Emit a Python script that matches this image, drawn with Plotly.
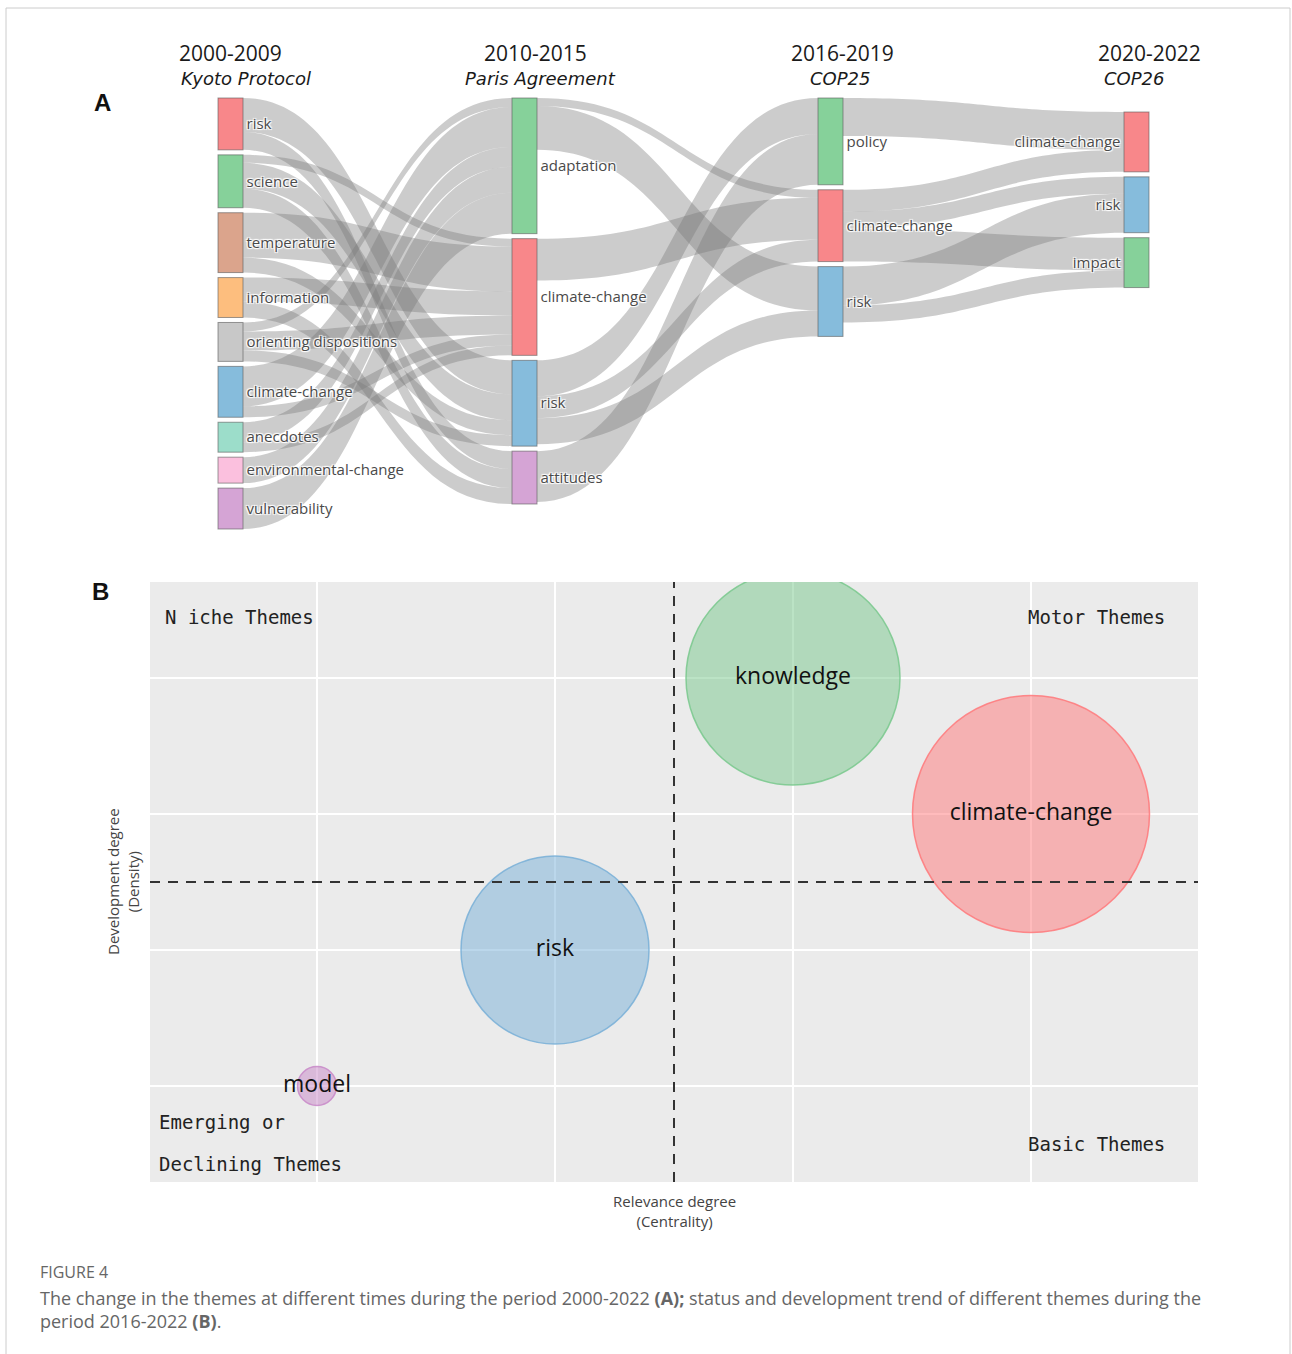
import plotly.graph_objects as go

W, H = 1292, 1354

# ---------------- Panel A data (thematic evolution) ----------------
periods = ["2000-2009", "2010-2015", "2016-2019", "2020-2022"]
events = ["Kyoto Protocol", "Paris Agreement", "COP25", "COP26"]

themes_p1 = ["risk", "science", "temperature", "information", "orienting dispositions",
             "climate-change", "anecdotes", "environmental-change", "vulnerability"]
themes_p2 = ["adaptation", "climate-change", "risk", "attitudes"]
themes_p3 = ["policy", "climate-change", "risk"]
themes_p4 = ["climate-change", "risk", "impact"]

colors_p1 = ["#F8878A", "#86D19A", "#DBA48C", "#FDBE7E", "#C8C8C8",
             "#86BCDC", "#9CDDCA", "#FBC0DE", "#D5A4D5"]
colors_p2 = ["#86D19A", "#F8878A", "#86BCDC", "#D5A4D5"]
colors_p3 = ["#86D19A", "#F8878A", "#86BCDC"]
colors_p4 = ["#F8878A", "#86BCDC", "#86D19A"]

p12_from = ["risk", "risk", "science", "science", "science", "temperature", "temperature",
            "information", "information", "orienting dispositions", "orienting dispositions",
            "orienting dispositions", "climate-change", "climate-change", "anecdotes", "anecdotes",
            "environmental-change", "vulnerability"]
p12_to = ["risk", "attitudes", "climate-change", "risk", "attitudes", "climate-change", "risk",
          "climate-change", "attitudes", "adaptation", "climate-change", "risk",
          "adaptation", "climate-change", "adaptation", "climate-change",
          "adaptation", "adaptation"]
p12_val = [34, 18, 8, 26, 19, 45, 15, 24, 16, 9, 19, 11, 40, 11, 20, 10, 26, 41]

p23_from = ["adaptation", "adaptation", "climate-change", "risk", "risk", "risk", "attitudes"]
p23_to = ["climate-change", "risk", "climate-change", "policy", "climate-change", "risk", "policy"]
p23_val = [8, 44, 42, 36, 22, 26, 51]

p34_from = ["policy", "climate-change", "climate-change", "climate-change", "risk", "risk"]
p34_to = ["climate-change", "climate-change", "risk", "impact", "risk", "impact"]
p34_val = [38, 22, 17, 33, 39, 17]

# ---------------- Panel B data (thematic map) ----------------
map_themes = ["knowledge", "climate-change", "risk", "model"]
rank_centrality = [3, 4, 2, 1]
rank_density = [4, 3, 2, 1]
bubble_size = [214, 237, 188, 39]
bubble_rgb = [(120, 200, 140), (255, 120, 122), (120, 175, 215), (200, 135, 200)]

# ---------------- helpers ----------------
def px(x):
    return x / W

def py(y):
    return 1 - y / H

columns = [themes_p1, themes_p2, themes_p3, themes_p4]
col_colors = [colors_p1, colors_p2, colors_p3, colors_p4]
node_ids = {}
labels, ncolors = [], []
for c, col in enumerate(columns):
    for j, t in enumerate(col):
        node_ids[(c, t)] = len(labels)
        labels.append(t)
        ncolors.append(col_colors[c][j])

src, tgt, val = [], [], []
for c, (fr, to, vv) in enumerate([(p12_from, p12_to, p12_val),
                                   (p23_from, p23_to, p23_val),
                                   (p34_from, p34_to, p34_val)]):
    for a, b, v in zip(fr, to, vv):
        src.append(node_ids[(c, a)])
        tgt.append(node_ids[(c + 1, b)])
        val.append(v)

n = len(labels)
inflow = [0] * n
outflow = [0] * n
for s, t, v in zip(src, tgt, val):
    outflow[s] += v
    inflow[t] += v
node_val = [max(i, o) for i, o in zip(inflow, outflow)]

# sankey geometry (layout)
dom_top, dom_bot = 98, 529
dom_h = dom_bot - dom_top
pad = 5
ky = min((dom_h - (len(col) - 1) * pad) / sum(node_val[node_ids[(c, t)]] for t in col)
         for c, col in enumerate(columns))
col_x_px = [230.5, 524.5, 830.5, 1136.5]
col_offset = [0, 0, 0, 14]
nx, ny = [0.0] * n, [0.0] * n
for c, col in enumerate(columns):
    cum = col_offset[c]
    for j, t in enumerate(col):
        k = node_ids[(c, t)]
        h = node_val[k] * ky
        nx[k] = col_x_px[c] / W
        ny[k] = (cum + h / 2) / dom_h
        cum += h + pad

fig = go.Figure()

fig.add_trace(go.Sankey(
    domain=dict(x=[0, 1], y=[py(dom_bot), py(dom_top)]),
    arrangement="fixed",
    node=dict(label=labels, color=ncolors, x=nx, y=ny, pad=pad, thickness=25,
              line=dict(color="rgba(90,90,90,0.6)", width=1)),
    link=dict(source=src, target=tgt, value=val, color="rgba(120,120,120,0.38)"),
    textfont=dict(family="Open Sans", size=15, color="#4a4a4a"),
    hoverinfo="skip",
))

fig.add_trace(go.Scatter(
    x=rank_centrality, y=rank_density, mode="markers+text", text=map_themes,
    textposition="middle center",
    textfont=dict(family="Open Sans", size=23, color="#111111"),
    marker=dict(size=bubble_size, sizemode="diameter", sizeref=1, opacity=1,
                color=[f"rgba({r},{g},{b},0.5)" for r, g, b in bubble_rgb],
                line=dict(color=[f"rgba({r},{g},{b},0.85)" for r, g, b in bubble_rgb], width=1.5)),
    cliponaxis=True, hoverinfo="skip", showlegend=False,
))

mean_c = sum(rank_centrality) / len(rank_centrality)
mean_d = sum(rank_density) / len(rank_density)


def note(x, y, text, font, xanchor="center", xref="paper", yref="paper", **kw):
    return dict(x=x, y=y, text=text, showarrow=False, xref=xref, yref=yref,
                xanchor=xanchor, yanchor="middle", font=font, **kw)


ann = []
hdr_x = [(230, 246), (535, 540), (842, 840), (1149, 1134)]
for (xa, xb), p, e in zip(hdr_x, periods, events):
    ann.append(note(px(xa), py(53), p, dict(family="Open Sans", size=21, color="#1a1a1a")))
    ann.append(note(px(xb), py(79), f"<i>{e}</i>", dict(family="DejaVu Sans", size=18, color="#1a1a1a")))
ann.append(note(px(102), py(103), "<b>A</b>", dict(family="Liberation Sans", size=24, color="#111")))
ann.append(note(px(100), py(591), "<b>B</b>", dict(family="Liberation Sans", size=24, color="#111")))

mono = dict(family="DejaVu Sans Mono", size=19, color="#222")
ann.append(note(px(163), py(617), "N iche Themes", mono, xanchor="left"))
ann.append(note(px(1167), py(617), "Motor Themes", mono, xanchor="right"))
ann.append(note(px(1167), py(1144), "Basic Themes", mono, xanchor="right"))
ann.append(note(px(157), py(1122), "Emerging or", mono, xanchor="left"))
ann.append(note(px(157), py(1164), "Declining Themes", mono, xanchor="left"))

ann.append(note(mean_c, py(1211), "Relevance degree<br>(Centrality)",
                dict(family="Open Sans", size=15, color="#444"), xref="x"))
ann.append(note(px(123), mean_d, "Development degree<br>(Density)",
                dict(family="Open Sans", size=15, color="#444"), yref="y", textangle=-90))

ann.append(note(px(38), py(1272), "FIGURE 4", dict(family="Open Sans", size=16, color="#666"),
                xanchor="left"))
ann.append(note(px(38), py(1309),
                "The change in the themes at different times during the period 2000-2022 <b>(A);</b> "
                "status and development trend of different themes during the<br>period 2016-2022 <b>(B)</b>.",
                dict(family="Open Sans", size=18, color="#666"), xanchor="left", align="left"))

shapes = [
    dict(type="line", xref="x", yref="y domain", x0=mean_c, x1=mean_c, y0=0, y1=1,
         line=dict(color="#333", width=2, dash="10px,8px")),
    dict(type="line", xref="x domain", yref="y", x0=0, x1=1, y0=mean_d, y1=mean_d,
         line=dict(color="#333", width=2, dash="10px,8px")),
    dict(type="rect", xref="paper", yref="paper", x0=px(6), x1=px(1290), y0=py(1362), y1=py(8),
         line=dict(color="#cccccc", width=1)),
]

fig.update_layout(
    width=W, height=H, margin=dict(l=0, r=0, t=0, b=0),
    paper_bgcolor="white", plot_bgcolor="#EBEBEB",
    xaxis=dict(domain=[px(150), px(1198)], range=[1 - 167 / 238, 1 + 881 / 238],
               tickvals=[1, 2, 3, 4], showticklabels=False, ticks="",
               showgrid=True, gridcolor="white", gridwidth=1.5, zeroline=False),
    yaxis=dict(domain=[py(1182), py(582)], range=[1 - 96 / 136, 1 + 504 / 136],
               tickvals=[1, 2, 3, 4], showticklabels=False, ticks="",
               showgrid=True, gridcolor="white", gridwidth=1.5, zeroline=False),
    annotations=ann, shapes=shapes, showlegend=False,
)

fig.write_html("out.html", config={"displayModeBar": False},
               post_script="document.body.style.margin='0';")
